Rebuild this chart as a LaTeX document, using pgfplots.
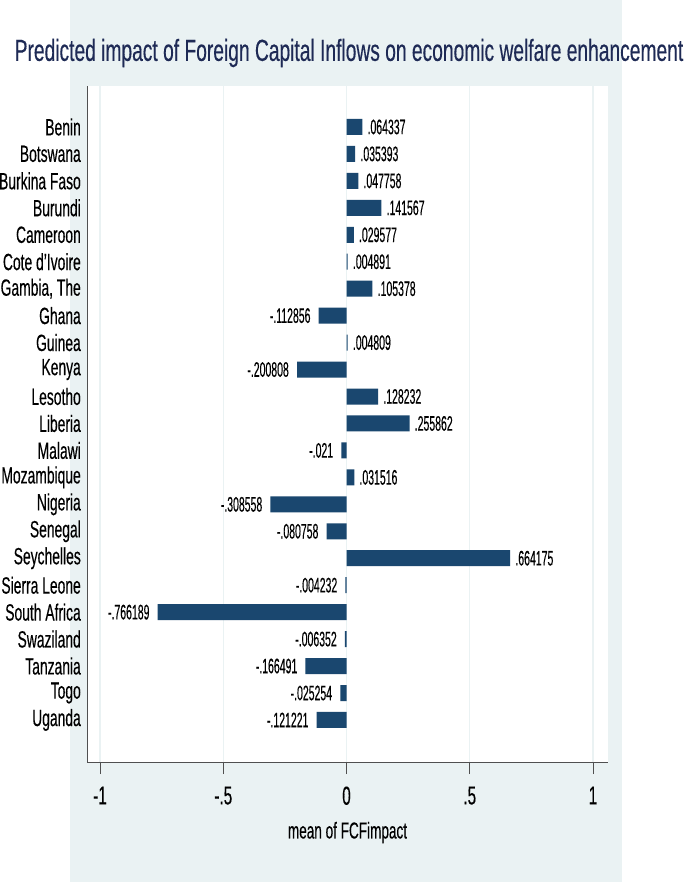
\documentclass[border=0pt]{standalone}
\usepackage{pgfplots}
\pgfplotsset{compat=1.18}
\usepackage{fontspec}
\setmainfont{Liberation Sans}[FakeStretch=0.59, FakeBold=0.3]
\newfontfamily\titlefont{Liberation Sans}[FakeStretch=0.63, FakeBold=0.3]
\newfontfamily\valfont{Liberation Sans}[FakeStretch=0.5, FakeBold=0.3]
\definecolor{bgcol}{RGB}{234,242,243}
\definecolor{barcol}{RGB}{26,71,111}
\definecolor{titlecol}{RGB}{30,42,85}
\definecolor{axcol}{RGB}{80,80,80}
\begin{document}
\begin{tikzpicture}[x=1pt,y=1pt]
\useasboundingbox (0,0) rectangle (685,-882);
\fill[bgcol] (70,0) rectangle (622,-882);
\node[titlecol, font=\titlefont\fontsize{30.5}{32}\selectfont, inner sep=0pt] at (349,-53) {Predicted impact of Foreign Capital Inflows on economic welfare enhancement};
\begin{axis}[
  at={(87pt,-762pt)}, anchor=south west,
  scale only axis, width=521pt, height=676pt,
  xmin=-1.053, xmax=1.061, ymin=-1.56, ymax=23.52,
  axis lines*=left,
  axis line style={axcol, line width=1pt},
  axis background/.style={fill=white},
  xmajorgrids, grid style={bgcol, line width=1.2pt},
  xtick={-1,-0.5,0,0.5,1}, xticklabels={-1,-.5,0,.5,1},
  tick align=outside, major tick length=12pt,
  x tick style={axcol, line width=0.8pt},
  y tick style={draw=none},
  xticklabel style={font=\fontsize{26}{27}\selectfont, yshift=-9pt},
  ytick={0,...,22},
  yticklabels={Uganda, Togo, Tanzania, Swaziland, South Africa, Sierra Leone, Seychelles, Senegal, Nigeria, Mozambique, Malawi, Liberia, Lesotho, Kenya, Guinea, Ghana, {Gambia, The}, Cote d'Ivoire, Cameroon, Burundi, Burkina Faso, Botswana, Benin},
  yticklabel style={font=\fontsize{23.5}{25}\selectfont, anchor=east, inner sep=0pt, xshift=6pt},
  xlabel={mean of FCFimpact},
  xlabel style={font=\fontsize{23}{25}\selectfont, yshift=-10pt},
]
\addplot[xbar, bar width=16pt, fill=barcol, draw=none, bar shift=0pt,
  point meta=explicit symbolic, nodes near coords,
  nodes near coords style={anchor=west, inner sep=0pt, xshift=5pt, black, font=\valfont\fontsize{21}{22}\selectfont}]
  table[x=v, y=y, meta=lab] {
y v lab
22 0.064337 .064337
21 0.035393 .035393
20 0.047758 .047758
19 0.141567 .141567
18 0.029577 .029577
17 0.004891 .004891
16 0.105378 .105378
14 0.004809 .004809
12 0.128232 .128232
11 0.255862 .255862
9 0.031516 .031516
6 0.664175 .664175
};
\addplot[xbar, bar width=16pt, fill=barcol, draw=none, bar shift=0pt,
  point meta=explicit symbolic, nodes near coords,
  nodes near coords style={anchor=east, inner sep=0pt, xshift=-8pt, black, font=\valfont\fontsize{21}{22}\selectfont}]
  table[x=v, y=y, meta=lab] {
y v lab
15 -0.112856 -.112856
13 -0.200808 -.200808
10 -0.021 -.021
8 -0.308558 -.308558
7 -0.080758 -.080758
5 -0.004232 -.004232
4 -0.766189 -.766189
3 -0.006352 -.006352
2 -0.166491 -.166491
1 -0.025254 -.025254
0 -0.121221 -.121221
};
\end{axis}
\end{tikzpicture}
\end{document}
